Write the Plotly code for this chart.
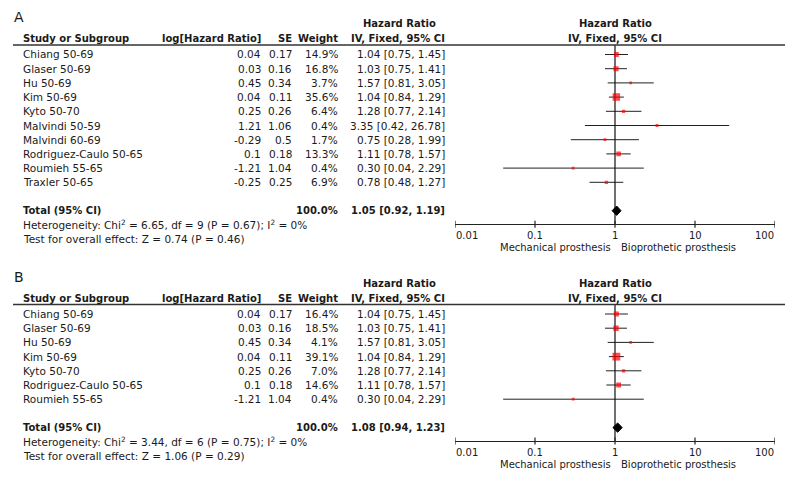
import math
import plotly.graph_objects as go

# ---------------- data ----------------
studies_A = ["Chiang 50-69", "Glaser 50-69", "Hu 50-69", "Kim 50-69", "Kyto 50-70",
             "Malvindi 50-59", "Malvindi 60-69", "Rodriguez-Caulo 50-65", "Roumieh 55-65", "Traxler 50-65"]
loghr_A = [0.04, 0.03, 0.45, 0.04, 0.25, 1.21, -0.29, 0.1, -1.21, -0.25]
se_A = [0.17, 0.16, 0.34, 0.11, 0.26, 1.06, 0.5, 0.18, 1.04, 0.25]
weight_A = [14.9, 16.8, 3.7, 35.6, 6.4, 0.4, 1.7, 13.3, 0.4, 6.9]
hr_A = [1.04, 1.03, 1.57, 1.04, 1.28, 3.35, 0.75, 1.11, 0.30, 0.78]
lo_A = [0.75, 0.75, 0.81, 0.84, 0.77, 0.42, 0.28, 0.78, 0.04, 0.48]
hi_A = [1.45, 1.41, 3.05, 1.29, 2.14, 26.78, 1.99, 1.57, 2.29, 1.27]
total_A = [1.05, 0.92, 1.19]
total_weight_A = 100.0
het_A = "Heterogeneity: Chi<sup>2</sup> = 6.65, df = 9 (P = 0.67); I<sup>2</sup> = 0%"
test_A = "Test for overall effect: Z = 0.74 (P = 0.46)"

studies_B = ["Chiang 50-69", "Glaser 50-69", "Hu 50-69", "Kim 50-69", "Kyto 50-70",
             "Rodriguez-Caulo 50-65", "Roumieh 55-65"]
loghr_B = [0.04, 0.03, 0.45, 0.04, 0.25, 0.1, -1.21]
se_B = [0.17, 0.16, 0.34, 0.11, 0.26, 0.18, 1.04]
weight_B = [16.4, 18.5, 4.1, 39.1, 7.0, 14.6, 0.4]
hr_B = [1.04, 1.03, 1.57, 1.04, 1.28, 1.11, 0.30]
lo_B = [0.75, 0.75, 0.81, 0.84, 0.77, 0.78, 0.04]
hi_B = [1.45, 1.41, 3.05, 1.29, 2.14, 1.57, 2.29]
total_B = [1.08, 0.94, 1.23]
total_weight_B = 100.0
het_B = "Heterogeneity: Chi<sup>2</sup> = 3.44, df = 6 (P = 0.75); I<sup>2</sup> = 0%"
test_B = "Test for overall effect: Z = 1.06 (P = 0.29)"

tick_vals = [0.01, 0.1, 1, 10, 100]
tick_text = ["0.01", "0.1", "1", "10", "100"]
label_left = "Mechanical prosthesis"
label_right = "Bioprothetic prosthesis"

# ---------------- layout helpers ----------------
# the page body has an 8px margin, so the figure is sized to the visible area
OFF = 8
W, H = 794 - OFF, 479 - OFF
FONT = "DejaVu Sans"
TXT = "#1a1a1a"
ROW = 14.2
FS = 10.5
FSB = 10

X_STUDY, X_LOG, X_SE, X_W, X_HR = 22, 262, 293, 339, 446


def px(x):
    return (x - OFF) / W


def py(y):
    return 1 - (y - OFF) / H


fig = go.Figure()
annotations = []
shapes = []


def ann(text, x, y, xanchor="left", yref="paper", xref="paper", bold=False, size=None, yanchor="middle"):
    if size is None:
        size = FSB if bold else FS
    if bold:
        text = "<b>" + text + "</b>"
    annotations.append(dict(text=text, x=x, y=y, xref=xref, yref=yref, xanchor=xanchor,
                            yanchor=yanchor, showarrow=False, borderpad=0,
                            font=dict(family=FONT, size=size, color=TXT)))


def panel(letter, studies, loghr, se, weight, hr, lo, hi, total, total_w, het, test,
          base_y, xa, ya, xname, yname):
    n = len(studies)
    total_row = n + 1
    top_px = base_y - 9.5                         # header underline
    axis_px = base_y + total_row * ROW + 13.5
    top_i = (top_px - base_y) / ROW
    bot_i = (axis_px - base_y) / ROW

    # CI lines
    xs, ys = [], []
    for i in range(n):
        xs += [lo[i], hi[i], None]
        ys += [i, i, None]
    fig.add_trace(go.Scatter(x=xs, y=ys, mode="lines", line=dict(color="#222222", width=1),
                             xaxis=xname, yaxis=yname, hoverinfo="skip", showlegend=False))
    # reference line at 1
    fig.add_trace(go.Scatter(x=[1, 1], y=[top_i, bot_i], mode="lines",
                             line=dict(color="#111111", width=1.2),
                             xaxis=xname, yaxis=yname, hoverinfo="skip", showlegend=False,
                             cliponaxis=False))
    # squares (area proportional to weight)
    sizes = [max(2.8, 1.25 * math.sqrt(w)) for w in weight]
    fig.add_trace(go.Scatter(x=hr, y=list(range(n)), mode="markers",
                             marker=dict(symbol="square", size=sizes, color="#ff0000",
                                         line=dict(width=0)),
                             xaxis=xname, yaxis=yname, showlegend=False))
    # diamond
    est, tlo, thi = total
    h = 0.33
    fig.add_trace(go.Scatter(x=[tlo, est, thi, est, tlo],
                             y=[total_row, total_row - h, total_row, total_row + h, total_row],
                             mode="lines", fill="toself", fillcolor="black",
                             line=dict(color="black", width=1),
                             xaxis=xname, yaxis=yname, showlegend=False, hoverinfo="skip"))

    fig.update_layout({
        xa: dict(type="log", range=[-2, 2], domain=[px(455), px(775)], anchor=yname,
                 showgrid=False, zeroline=False, showline=True, linecolor="#222222", linewidth=1.2,
                 ticks="", tickvals=tick_vals, showticklabels=False, fixedrange=True),
        ya: dict(range=[bot_i, top_i], domain=[py(axis_px), py(top_px)], visible=False,
                 showgrid=False, zeroline=False, fixedrange=True),
    })

    # tick marks crossing the axis
    for v in tick_vals:
        shapes.append(dict(type="line", xref=xname, yref="paper", x0=v, x1=v,
                           y0=py(axis_px - 3.5), y1=py(axis_px + 3.5),
                           line=dict(color="#222222", width=1.2)))
    # tick labels (annotation positions on a log axis are given in log10 units)
    for k, (v, t) in enumerate(zip(tick_vals, tick_text)):
        xanchor = "left" if k == 0 else ("right" if k == len(tick_vals) - 1 else "center")
        ann(t, math.log10(v), py(axis_px + 11), xanchor=xanchor, xref=xname, size=10)
    ann(label_left, px(612), py(axis_px + 23.5), xanchor="right", size=10)
    ann(label_right, px(620), py(axis_px + 23.5), xanchor="left", size=10)

    # panel letter
    ann(letter, px(13), py(base_y - 37.5), size=14)
    # header
    h1 = base_y - 30.5
    h2 = base_y - 15.5
    ann("Hazard Ratio", px(399), py(h1), xanchor="center", bold=True)
    ann("Hazard Ratio", px(615), py(h1), xanchor="center", bold=True)
    ann("Study or Subgroup", px(X_STUDY), py(h2), bold=True)
    ann("log[Hazard Ratio]", px(X_LOG), py(h2), xanchor="right", bold=True)
    ann("SE", px(X_SE), py(h2), xanchor="right", bold=True)
    ann("Weight", px(X_W), py(h2), xanchor="right", bold=True)
    ann("IV, Fixed, 95% CI", px(X_HR), py(h2), xanchor="right", bold=True)
    ann("IV, Fixed, 95% CI", px(615), py(h2), xanchor="center", bold=True)
    shapes.append(dict(type="line", xref="paper", yref="paper", x0=px(13), x1=px(785),
                       y0=py(top_px), y1=py(top_px), line=dict(color="#333333", width=1.5)))

    # rows
    yref = yname
    for i in range(n):
        ann(studies[i], px(X_STUDY), i, yref=yref)
        ann(f"{loghr[i]:g}", px(X_LOG), i, xanchor="right", yref=yref)
        ann(f"{se[i]:g}", px(X_SE), i, xanchor="right", yref=yref)
        ann(f"{weight[i]:.1f}%", px(X_W), i, xanchor="right", yref=yref)
        ann(f"{hr[i]:.2f} [{lo[i]:.2f}, {hi[i]:.2f}]", px(X_HR), i, xanchor="right", yref=yref)
    ann("Total (95% CI)", px(X_STUDY), total_row, yref=yref, bold=True)
    ann(f"{total_w:.1f}%", px(X_W), total_row, xanchor="right", yref=yref, bold=True)
    ann(f"{est:.2f} [{tlo:.2f}, {thi:.2f}]", px(X_HR), total_row, xanchor="right", yref=yref, bold=True)
    ann(het, px(X_STUDY), py(axis_px + 0.5))
    ann(test, px(X_STUDY), py(axis_px + 15))


panel("A", studies_A, loghr_A, se_A, weight_A, hr_A, lo_A, hi_A, total_A, total_weight_A,
      het_A, test_A, 54.5, "xaxis", "yaxis", "x", "y")
panel("B", studies_B, loghr_B, se_B, weight_B, hr_B, lo_B, hi_B, total_B, total_weight_B,
      het_B, test_B, 314, "xaxis2", "yaxis2", "x2", "y2")

fig.update_layout(width=W, height=H, margin=dict(l=0, r=0, t=0, b=0),
                  paper_bgcolor="white", plot_bgcolor="white",
                  annotations=annotations, shapes=shapes, showlegend=False,
                  font=dict(family=FONT, color=TXT))

fig.write_html("out.html")
